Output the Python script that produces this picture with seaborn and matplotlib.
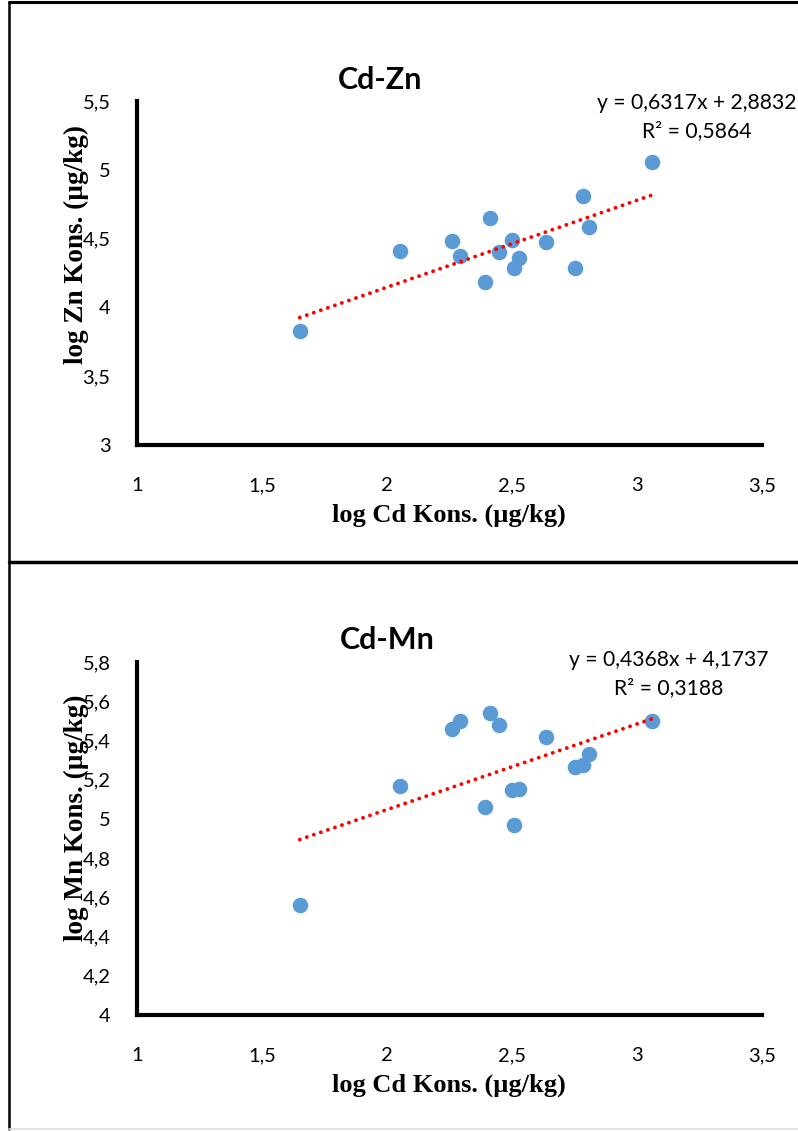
import numpy as np
import pandas as pd
import seaborn as sns
import matplotlib.pyplot as plt
from matplotlib.lines import Line2D

sns.set_theme(style="white")
plt.rcParams['font.family'] = ['Lato', 'DejaVu Sans']

# ---- data ----
cd_zn_x = [1.651, 2.051, 2.261, 2.293, 2.411, 2.391, 2.446, 2.498, 2.528, 2.506,
           2.635, 2.750, 2.782, 2.808, 3.058]
zn_y = [3.828, 4.410, 4.480, 4.374, 4.647, 4.182, 4.405, 4.490, 4.359, 4.284,
        4.473, 4.287, 4.807, 4.587, 5.057]

cd_mn_x = [1.651, 2.051, 2.261, 2.293, 2.411, 2.446, 2.391, 2.498, 2.528, 2.506,
           2.635, 2.750, 2.782, 2.808, 3.058]
mn_y = [4.559, 5.166, 5.460, 5.499, 5.542, 5.479, 5.061, 5.146, 5.152, 4.969,
        5.418, 5.263, 5.276, 5.331, 5.501]

titles = ["Cd-Zn", "Cd-Mn"]
slopes = [0.6317, 0.4368]
intercepts = [2.8832, 4.1737]
eq_texts = ["y = 0,6317x + 2,8832", "y = 0,4368x + 4,1737"]
r2_texts = ["R² = 0,5864", "R² = 0,3188"]
xlabel = "log Cd Kons. (µg/kg)"
ylabels = ["log Zn Kons. (µg/kg)", "log Mn Kons. (µg/kg)"]
x_ticks = [1, 1.5, 2, 2.5, 3, 3.5]
y_ticks_top = [3, 3.5, 4, 4.5, 5, 5.5]
y_ticks_bot = [4, 4.2, 4.4, 4.6, 4.8, 5, 5.2, 5.4, 5.6, 5.8]

W, H = 798, 1131
fig = plt.figure(figsize=(W / 100, H / 100), dpi=100)

def fx(px):
    return px / W

def fy(py):
    return 1 - py / H

# panel frames
frame_kw = dict(color="black", transform=fig.transFigure, figure=fig)
fig.lines.extend([
    Line2D([fx(9), 1], [fy(2), fy(2)], lw=2.2, **frame_kw),
    Line2D([fx(9), fx(9)], [fy(2), fy(1129)], lw=1.8, **frame_kw),
    Line2D([fx(9), 1], [fy(562), fy(562)], lw=2.5, **frame_kw),
    Line2D([fx(9), 1], [fy(1129), fy(1129)], lw=1.2, color="#dddddd",
           transform=fig.transFigure, figure=fig),
])

axes_specs = [
    dict(rect=[fx(137), fy(445), (762 - 137) / W, (445 - 101) / H],
         ylim=(3, 5.5), yticks=y_ticks_top, x=cd_zn_x, y=zn_y,
         title=(380, 80), eq=(697, 103), xl_y=515, yl=(76, 244)),
    dict(rect=[fx(137), fy(1015), (762 - 137) / W, (1015 - 662) / H],
         ylim=(4, 5.8), yticks=y_ticks_bot, x=cd_mn_x, y=mn_y,
         title=(387, 640), eq=(669, 660), xl_y=1085, yl=(76, 818)),
]

def fmt(v):
    s = f"{v:g}"
    return s.replace(".", ",")

for i, spec in enumerate(axes_specs):
    ax = fig.add_axes(spec["rect"])
    ax.set_facecolor("none")
    df = pd.DataFrame({"x": spec["x"], "y": spec["y"]})
    sns.scatterplot(data=df, x="x", y="y", ax=ax, s=125, color="#5B9BD5",
                    linewidth=0, zorder=3, clip_on=False)
    xs = np.array([min(spec["x"]), max(spec["x"])])
    ax.plot(xs, slopes[i] * xs + intercepts[i], color="#FF0000", lw=2.8,
            linestyle=(0, (0.01, 1.9)), dash_capstyle="round", zorder=4)
    ax.set_xlim(1, 3.5)
    ax.set_ylim(*spec["ylim"])
    ax.set_xticks(x_ticks)
    ax.set_xticklabels([fmt(v) for v in x_ticks])
    ax.set_yticks(spec["yticks"])
    ax.set_yticklabels([fmt(v) for v in spec["yticks"]])
    ax.tick_params(axis="both", length=0, labelsize=14.5, colors="black")
    ax.tick_params(axis="x", pad=23)
    ax.tick_params(axis="y", pad=19)
    for side in ["top", "right"]:
        ax.spines[side].set_visible(False)
    for side in ["left", "bottom"]:
        ax.spines[side].set_color("black")
        ax.spines[side].set_linewidth(3.0)
    ax.set_xlabel("")
    ax.set_ylabel("")
    ax.grid(False)

    tx, ty = spec["title"]
    fig.text(fx(tx), fy(ty), titles[i], fontsize=22,
             fontweight="bold", ha="center", va="center", color="black")
    ex, ey = spec["eq"]
    fig.text(fx(ex), fy(ey), eq_texts[i], fontsize=15.2, ha="center",
             va="center", color="black")
    fig.text(fx(ex), fy(ey + 28), r2_texts[i], fontsize=15.2, ha="center",
             va="center", color="black")
    fig.text(fx(449), fy(spec["xl_y"]), xlabel, fontsize=19,
             fontweight="bold", family="Liberation Serif", ha="center",
             va="center", color="black")
    yx, yy = spec["yl"]
    fig.text(fx(yx), fy(yy), ylabels[i], fontsize=19.5, fontweight="bold",
             family="Liberation Serif", rotation=90, ha="center",
             va="center", color="black")

fig.savefig("out.png", dpi=100, facecolor="white")
